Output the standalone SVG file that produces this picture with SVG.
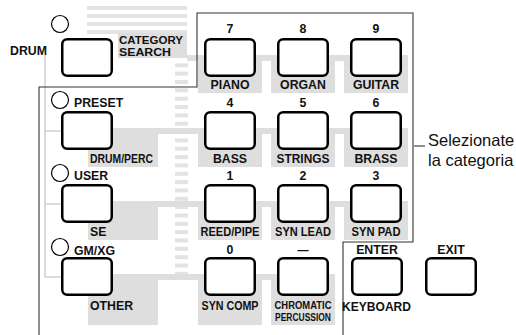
<svg xmlns="http://www.w3.org/2000/svg" width="516" height="335" viewBox="0 0 516 335">
<style>
.bg{fill:#dedede}
.st{fill:#e3e3e3}
.btn{fill:#fff;stroke:#000;stroke-width:2.5}
.led{fill:#fff;stroke:#000;stroke-width:1.2}
.t{font-family:"Liberation Sans",Arial,sans-serif;font-weight:bold;font-size:12.3px;fill:#111}
.n{font-family:"Liberation Sans",Arial,sans-serif;font-weight:bold;font-size:12.3px;fill:#111;text-anchor:middle}
.c{text-anchor:middle}
.r{font-family:"Liberation Sans",Arial,sans-serif;font-size:16.5px;fill:#111}
.frame{fill:none;stroke:#333;stroke-width:1.1}
.br{fill:none;stroke:#d2d2d2;stroke-width:1.6}
</style>
<rect width="516" height="335" fill="#fff"/>
<g id="background">
  <rect class="st" x="87" y="6" width="100" height="4"/>
  <rect class="st" x="87" y="14" width="100" height="4"/>
  <rect class="st" x="87" y="22" width="100" height="4"/>
  <rect class="st" x="87" y="30" width="100" height="4"/>
  <rect class="st" x="175" y="63.3" width="13" height="4"/>
  <rect class="st" x="175" y="71.6" width="13" height="4"/>
  <rect class="st" x="175" y="80" width="13" height="4"/>
  <rect class="st" x="175" y="88.3" width="13" height="4"/>
  <rect class="st" x="175" y="96.7" width="13" height="4"/>
  <rect class="st" x="175" y="105" width="13" height="4"/>
  <rect class="st" x="175" y="113.4" width="13" height="4"/>
  <rect class="st" x="175" y="121.7" width="13" height="4"/>
  <rect class="st" x="175" y="130" width="13" height="4"/>
  <rect class="st" x="175" y="138.4" width="13" height="4"/>
  <rect class="st" x="175" y="146.7" width="13" height="4"/>
  <rect class="st" x="175" y="155.1" width="13" height="4"/>
  <rect class="st" x="175" y="163.4" width="13" height="4"/>
  <rect class="st" x="175" y="171.8" width="13" height="4"/>
  <rect class="st" x="175" y="180.1" width="13" height="4"/>
  <rect class="st" x="175" y="188.4" width="13" height="4"/>
  <rect class="st" x="175" y="196.8" width="13" height="4"/>
  <rect class="st" x="175" y="205.1" width="13" height="4"/>
  <rect class="st" x="175" y="213.5" width="13" height="4"/>
  <rect class="st" x="175" y="221.8" width="13" height="4"/>
  <rect class="st" x="175" y="230.1" width="13" height="4"/>
  <rect class="st" x="175" y="238.5" width="13" height="4"/>
  <rect class="st" x="175" y="246.8" width="13" height="4"/>
  <rect class="st" x="175" y="255.2" width="13" height="4"/>
  <rect class="st" x="175" y="263.5" width="13" height="4"/>
  <rect class="st" x="175" y="271.9" width="13" height="4"/>
  <rect class="bg" x="118" y="33" width="69" height="25"/>
  <rect class="bg" x="187" y="55" width="221" height="6"/>
  <rect class="bg" x="198" y="55" width="64" height="38"/>
  <rect class="bg" x="271" y="55" width="64" height="38"/>
  <rect class="bg" x="344" y="55" width="64" height="38"/>
  <rect class="bg" x="113" y="128" width="295" height="6"/>
  <rect class="bg" x="88" y="128" width="70" height="39"/>
  <rect class="bg" x="198" y="128" width="64" height="39"/>
  <rect class="bg" x="271" y="128" width="64" height="39"/>
  <rect class="bg" x="344" y="128" width="64" height="39"/>
  <rect class="bg" x="113" y="201" width="295" height="6"/>
  <rect class="bg" x="88" y="201" width="70" height="39"/>
  <rect class="bg" x="198" y="201" width="64" height="39"/>
  <rect class="bg" x="271" y="201" width="64" height="39"/>
  <rect class="bg" x="344" y="201" width="64" height="39"/>
  <rect class="bg" x="113" y="274" width="222" height="6"/>
  <rect class="bg" x="88" y="274" width="70" height="51"/>
  <rect class="bg" x="198" y="274" width="64" height="51"/>
  <rect class="bg" x="271" y="274" width="64" height="51"/>
</g>
<g id="connectors">
  <polyline class="br" points="61,131 45,131 45,55"/>
  <polyline class="br" points="61,204 45,204"/>
  <polyline class="br" points="61,277 45,277 45,131"/>
  <polyline class="frame" points="39,335 39,87 197,87 197,13 413,13 413,242 343,242 343,335"/>
  <line class="frame" x1="414" y1="146" x2="425" y2="146"/>
</g>
<g id="drum">
  <circle class="led" cx="60" cy="24" r="8.5"/>
  <rect class="btn" x="62.25" y="39.25" width="49.5" height="36.5" rx="5"/>
  <text class="t" x="10" y="55">DRUM</text>
  <text class="t" x="119" y="43.5" style="font-size:11.3px" textLength="64" lengthAdjust="spacingAndGlyphs">CATEGORY</text>
  <text class="t" x="119" y="55.5" style="font-size:11.3px" textLength="52" lengthAdjust="spacingAndGlyphs">SEARCH</text>
</g>
<g id="preset">
  <circle class="led" cx="60" cy="100" r="8.5"/>
  <rect class="btn" x="62.25" y="112.25" width="49.5" height="36.5" rx="5"/>
  <text class="t" x="74" y="107">PRESET</text>
  <text class="t" x="90" y="163" textLength="63" lengthAdjust="spacingAndGlyphs">DRUM/PERC</text>
</g>
<g id="user">
  <circle class="led" cx="60" cy="173" r="8.5"/>
  <rect class="btn" x="62.25" y="185.25" width="49.5" height="36.5" rx="5"/>
  <text class="t" x="74" y="180">USER</text>
  <text class="t" x="90" y="236">SE</text>
</g>
<g id="gmxg">
  <circle class="led" cx="60" cy="247" r="8.5"/>
  <rect class="btn" x="62.25" y="258.25" width="49.5" height="36.5" rx="5"/>
  <text class="t" x="74" y="255">GM/XG</text>
  <text class="t" x="90" y="310">OTHER</text>
</g>
<g id="key7">
  <rect class="btn" x="205.25" y="39.25" width="49.5" height="36.5" rx="5"/>
  <text class="n" x="230" y="33">7</text>
  <text class="t c" x="230" y="89">PIANO</text>
</g>
<g id="key8">
  <rect class="btn" x="278.25" y="39.25" width="49.5" height="36.5" rx="5"/>
  <text class="n" x="303" y="33">8</text>
  <text class="t c" x="303" y="89">ORGAN</text>
</g>
<g id="key9">
  <rect class="btn" x="351.25" y="39.25" width="49.5" height="36.5" rx="5"/>
  <text class="n" x="376" y="33">9</text>
  <text class="t c" x="376" y="89">GUITAR</text>
</g>
<g id="key4">
  <rect class="btn" x="205.25" y="112.25" width="49.5" height="36.5" rx="5"/>
  <text class="n" x="230" y="107">4</text>
  <text class="t c" x="230" y="163">BASS</text>
</g>
<g id="key5">
  <rect class="btn" x="278.25" y="112.25" width="49.5" height="36.5" rx="5"/>
  <text class="n" x="303" y="107">5</text>
  <text class="t c" x="303" y="163" textLength="53" lengthAdjust="spacingAndGlyphs">STRINGS</text>
</g>
<g id="key6">
  <rect class="btn" x="351.25" y="112.25" width="49.5" height="36.5" rx="5"/>
  <text class="n" x="376" y="107">6</text>
  <text class="t c" x="376" y="163">BRASS</text>
</g>
<g id="key1">
  <rect class="btn" x="205.25" y="185.25" width="49.5" height="36.5" rx="5"/>
  <text class="n" x="230" y="180">1</text>
  <text class="t c" x="230" y="236" textLength="59" lengthAdjust="spacingAndGlyphs">REED/PIPE</text>
</g>
<g id="key2">
  <rect class="btn" x="278.25" y="185.25" width="49.5" height="36.5" rx="5"/>
  <text class="n" x="303" y="180">2</text>
  <text class="t c" x="303" y="236" textLength="56" lengthAdjust="spacingAndGlyphs">SYN LEAD</text>
</g>
<g id="key3">
  <rect class="btn" x="351.25" y="185.25" width="49.5" height="36.5" rx="5"/>
  <text class="n" x="376" y="180">3</text>
  <text class="t c" x="376" y="236" textLength="49" lengthAdjust="spacingAndGlyphs">SYN PAD</text>
</g>
<g id="key0">
  <rect class="btn" x="205.25" y="258.25" width="49.5" height="36.5" rx="5"/>
  <text class="n" x="230" y="254">0</text>
  <text class="t c" x="230" y="310" textLength="57" lengthAdjust="spacingAndGlyphs">SYN COMP</text>
</g>
<g id="keyminus">
  <rect class="btn" x="278.25" y="258.25" width="49.5" height="36.5" rx="5"/>
  <text class="n" x="303" y="254" style="font-size:11px">—</text>
  <text class="t c" x="303" y="309" style="font-size:11px" textLength="57" lengthAdjust="spacingAndGlyphs">CHROMATIC</text>
  <text class="t c" x="303" y="321" style="font-size:11px" textLength="56" lengthAdjust="spacingAndGlyphs">PERCUSSION</text>
</g>
<g id="enter">
  <rect class="btn" x="352.25" y="258.25" width="49.5" height="36.5" rx="5"/>
  <text class="n" x="377" y="254">ENTER</text>
  <text class="t" x="342" y="311" textLength="69" lengthAdjust="spacingAndGlyphs">KEYBOARD</text>
</g>
<g id="exit">
  <rect class="btn" x="426.25" y="258.25" width="49.5" height="36.5" rx="5"/>
  <text class="n" x="451" y="254">EXIT</text>
</g>
<g id="caption">
  <text class="r" x="428" y="146">Selezionate</text>
  <text class="r" x="428" y="166">la categoria</text>
</g>
</svg>
